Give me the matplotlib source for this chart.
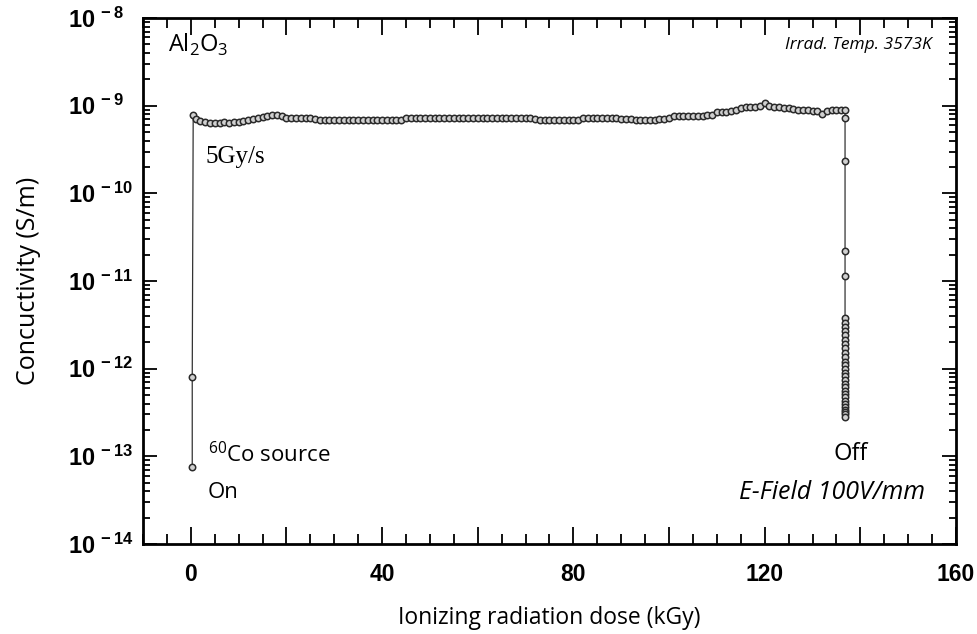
import numpy as np
import matplotlib.pyplot as plt
from matplotlib.ticker import MultipleLocator, FixedLocator, LogLocator, NullFormatter

plt.rcParams['mathtext.fontset'] = 'custom'
plt.rcParams['mathtext.rm'] = 'Open Sans'
plt.rcParams['mathtext.bf'] = 'Liberation Sans:bold'
plt.rcParams['font.family'] = ['Open Sans', 'DejaVu Sans']

# Turn-on: dose (kGy) and conductivity (S/m)
on_dose = [0.3, 0.3]
on_cond = [7.6e-14, 8.0e-13]

# Plateau under irradiation, one reading per kGy (units of 1e-10 S/m)
plateau_dose = [0.5] + list(range(1, 137)) + [136.8]
plateau_cond_e10 = [
    7.8, 7.0, 6.6, 6.45, 6.4, 6.4, 6.4, 6.45, 6.4, 6.45, 6.5,   # 0.5-10
    6.7, 6.9, 7.1, 7.3, 7.5, 7.7, 7.9, 7.9, 7.6, 7.3,           # 11-20
    7.3, 7.3, 7.2, 7.3, 7.2, 7.0, 6.9, 6.9, 6.9, 6.9,           # 21-30
    6.9, 6.9, 6.9, 6.9, 6.9, 6.9, 6.9, 6.9, 6.9, 6.9,           # 31-40
    6.9, 6.9, 6.9, 6.9, 7.2, 7.25, 7.25, 7.25, 7.25, 7.25,      # 41-50
    7.25, 7.25, 7.25, 7.25, 7.25, 7.25, 7.25, 7.25, 7.25, 7.25, # 51-60
    7.25, 7.25, 7.25, 7.25, 7.25, 7.25, 7.25, 7.25, 7.25, 7.25, # 61-70
    7.25, 7.1, 6.8, 6.8, 6.8, 6.8, 6.8, 6.8, 6.8, 6.8,          # 71-80
    6.9, 7.2, 7.25, 7.25, 7.25, 7.25, 7.25, 7.2, 7.2, 7.1,      # 81-90
    7.1, 7.0, 6.8, 6.8, 6.8, 6.8, 6.9, 7.1, 7.1, 7.2,           # 91-100
    7.6, 7.6, 7.6, 7.6, 7.6, 7.7, 7.7, 7.8, 7.9, 8.4,           # 101-110
    8.5, 8.5, 8.6, 8.9, 9.5, 9.6, 9.7, 9.7, 9.9, 10.8,          # 111-120
    9.8, 9.6, 9.6, 9.5, 9.4, 9.2, 8.9, 8.9, 8.9, 8.8,           # 121-130
    8.6, 8.1, 8.6, 8.9, 8.9, 8.9, 8.9,                          # 131-136.8
]

# Decay after the source is switched off (S/m), dose stays at 136.8 kGy
off_cond = [
    7.2e-10, 2.35e-10, 2.2e-11, 1.14e-11, 3.8e-12, 3.3e-12,
    3.0e-12, 2.7e-12, 2.4e-12, 2.1e-12, 1.9e-12, 1.7e-12, 1.5e-12,
    1.35e-12, 1.2e-12, 1.1e-12, 1.0e-12, 9.0e-13, 8.2e-13, 7.4e-13,
    6.7e-13, 6.1e-13, 5.6e-13, 5.1e-13, 4.7e-13, 4.3e-13, 4.0e-13,
    3.7e-13, 3.4e-13, 3.2e-13, 3.0e-13, 2.8e-13,
]

dose = on_dose + plateau_dose + [136.8] * len(off_cond)
cond = on_cond + [v * 1e-10 for v in plateau_cond_e10] + off_cond

fig = plt.figure(figsize=(9.78, 6.34), dpi=100)
ax = fig.add_axes([0.1462, 0.142, 0.8313, 0.8296])

ax.semilogy(dose, cond, color='#333333', lw=0.9, marker='o', ms=4.6,
            mfc='#d0d0d0', mec='#2a2a2a', mew=1.1)

ax.set_xlim(-10, 160)
ax.set_ylim(1e-14, 1e-8)

# x ticks: major every 20, labelled every 40, minor every 5
xlabels = [0, 40, 80, 120, 160]
ax.xaxis.set_major_locator(MultipleLocator(20))
ax.xaxis.set_minor_locator(MultipleLocator(5))
ax.xaxis.set_major_formatter(plt.FuncFormatter(
    lambda v, p: f'{int(round(v))}' if int(round(v)) in xlabels else ''))

ydecades = [1e-14, 1e-13, 1e-12, 1e-11, 1e-10, 1e-9, 1e-8]
ax.yaxis.set_major_locator(FixedLocator(ydecades))
ax.yaxis.set_minor_locator(LogLocator(base=10, subs=np.arange(2, 10)))
ax.yaxis.set_minor_formatter(NullFormatter())
ax.set_yticks(ydecades)
ax.set_yticklabels([r'$\mathbf{10^{\,%d}}$' % int(np.log10(v)) for v in ydecades],
                   ha='left')

ax.tick_params(which='both', direction='in', top=True, right=True, width=1.3)
ax.tick_params(axis='x', which='major', length=12, pad=14)
ax.tick_params(axis='x', which='minor', length=7)
ax.tick_params(axis='y', which='major', length=10, pad=54)
ax.tick_params(axis='y', which='minor', length=5)
for lab in ax.get_xticklabels():
    lab.set_fontfamily('Liberation Sans')
    lab.set_fontweight('bold')
    lab.set_fontsize(16.5)
for lab in ax.get_yticklabels():
    lab.set_fontsize(17)

for s in ax.spines.values():
    s.set_linewidth(2)

ax.set_xlabel('Ionizing radiation dose (kGy)', fontsize=16.5, labelpad=14)
ax.set_ylabel('Concuctivity (S/m)', fontsize=18)
ax.yaxis.set_label_coords(-0.126, 0.5)

ax.text(-4.8, 4.9e-9, r'Al$_2$O$_3$', fontsize=17, va='center', ha='left')
ax.text(155, 4.9e-9, 'Irrad. Temp. 3573K', fontsize=12.5, style='italic',
        va='center', ha='right')
ax.text(3, 2.6e-10, '5Gy/s', fontsize=18, family='Liberation Serif',
        va='center', ha='left')
ax.text(3.5, 1.05e-13, r'$^{60}$Co source', fontsize=16, va='center', ha='left')
ax.text(3.5, 3.9e-14, 'On', fontsize=16, va='center', ha='left')
ax.text(134.3, 1.05e-13, 'Off', fontsize=17, va='center', ha='left')
ax.text(153.5, 3.9e-14, 'E-Field 100V/mm', fontsize=18, style='italic',
        va='center', ha='right')

fig.savefig('out.png', dpi=100)
